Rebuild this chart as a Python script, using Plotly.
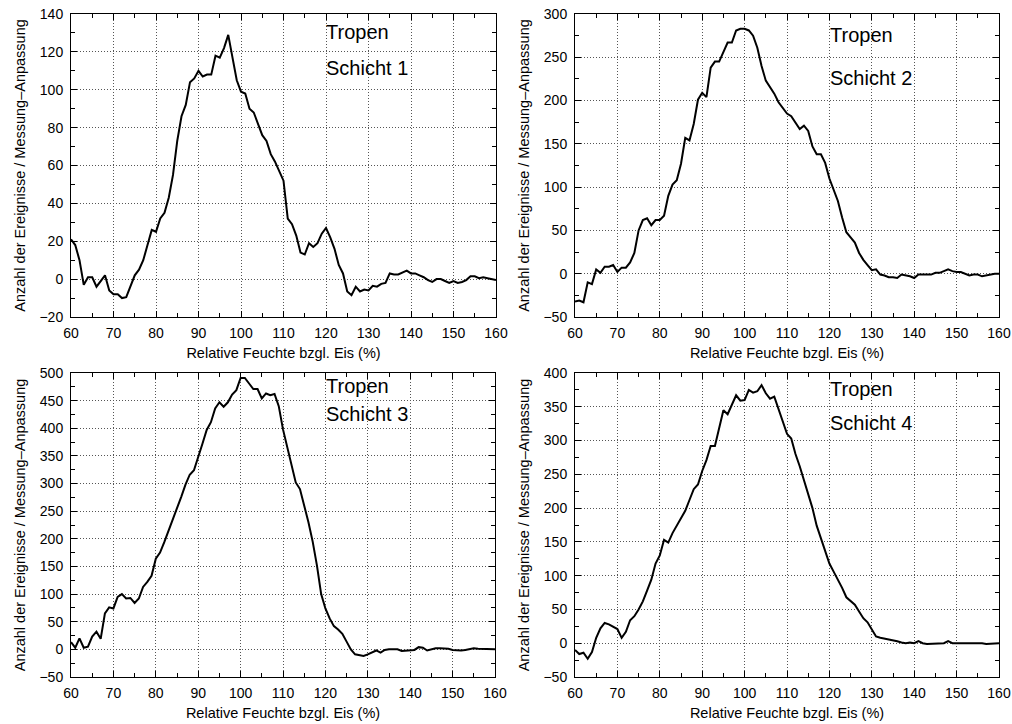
import plotly.graph_objects as go
from plotly.subplots import make_subplots

# ---------------- data ----------------
rh = list(range(60, 161))  # Relative Feuchte bzgl. Eis (%)

schicht1 = [21, 18, 10, -3, 1, 1, -4, -1, 2, -6,
            -8, -8, -10, -9.5, -4, 2, 5, 10, 18, 26,
            25, 32, 35, 43, 55, 73, 86, 92, 104, 106,
            110, 107, 108, 108, 118, 117, 122, 129, 117, 105,
            99, 98, 90, 88, 82, 76, 73, 66, 62, 57,
            52, 32, 29, 23, 14, 13, 19, 17, 19, 24,
            27, 22, 16, 7.5, 3, -6.5, -8.5, -4, -6.5, -5.5,
            -6, -3.5, -4, -2.5, -2, 3, 2.5, 2.5, 3.5, 4.5,
            3, 3, 2, 1, -0.5, -1.5, 0, 0, -1, -2,
            -1, -2, -1.5, -0.5, 1.5, 1.5, 0.5, 1, 0.5, 0, -0.5]

schicht2 = [-32, -31, -33, -10, -12, 5, 1, 8, 8, 10,
            2, 7, 7, 13, 24, 50, 62, 64, 56, 62,
            62, 67, 90, 103, 108, 127, 157, 154, 173, 201,
            209, 204, 238, 245, 245, 256, 267, 267, 281, 283,
            283, 281, 275, 261, 240, 223, 215, 208, 198, 191,
            185, 182, 175, 167, 171, 165, 147, 138, 138, 128,
            110, 97, 84, 65, 48, 42, 36, 24, 16, 10,
            4, 5, -1, -2, -4, -4, -5, -1, -2, -3,
            -5, -1, -1, -1, -1, 1, 1, 3, 5, 3,
            2, 2, 0, -2, -1, -1, -3, -2, -1, 0, 0]

schicht3 = [13, 3, 20, 3, 5, 23, 32, 19, 65, 76,
            74, 95, 100, 92, 93, 84, 92, 113, 122, 133,
            164, 175, 194, 214, 234, 255, 276, 298, 316, 324,
            346, 372, 397, 411, 436, 447, 439, 447, 461, 469,
            491, 491, 481, 471, 471, 454, 463, 460, 462, 440,
            398, 365, 330, 302, 290, 262, 230, 195, 152, 100,
            74, 56, 42, 36, 28, 14, 0, -9, -10, -12,
            -9, -6, -2, -6, -1, 0, 0, 0, -3, -2,
            -1, -1, 4, 3, -2, 0, 2, 2, 2, 1,
            -1, -2, -2, -1, 0, 2, 1, 1, 0, 0, 0]

schicht4 = [-10, -16, -14, -23, -13, 8, 22, 30, 28, 24,
            21, 8, 17, 34, 40, 50, 62, 78, 94, 118,
            130, 153, 149, 163, 174, 183, 196, 212, 228, 235,
            255, 271, 292, 292, 318, 345, 339, 352, 367, 359,
            360, 375, 371, 373, 382, 370, 362, 365, 346, 327,
            310, 303, 280, 262, 242, 222, 200, 174, 156, 138,
            118, 106, 95, 82, 68, 62, 57, 47, 37, 31,
            20, 10, 8, 7, 6, 4, 3, 1, 0, 1,
            0, 3, 0, -1, -1, 0, 0, 0, 3, 0,
            0, 0, 0, 0, 0, 1, 0, -1, -1, 0, 0]

series = [schicht1, schicht2, schicht3, schicht4]
labels = ["Schicht 1", "Schicht 2", "Schicht 3", "Schicht 4"]
region = "Tropen"

y_ranges = [[-20, 140], [-50, 300], [-50, 500], [-50, 400]]
y_dticks = [20, 50, 50, 50]
x_title = "Relative Feuchte bzgl. Eis (%)"
y_title = "Anzahl der Ereignisse / Messung\u2013Anpassung"

# label positions (data coords): (x, y_region, y_layer)
label_pos = [(119.6, 130.5, 111.5), (119.6, 276, 226.5), (119.6, 476, 426), (119.6, 377, 326.5)]

# ---------------- figure ----------------
W, H = 1012, 724
fig = make_subplots(rows=2, cols=2)

dom_x = [[71 / W, 496 / W], [575 / W, 999 / W], [71 / W, 495 / W], [575 / W, 999 / W]]
dom_y = [[1 - 317 / H, 1 - 14 / H], [1 - 317 / H, 1 - 14 / H],
         [1 - 677 / H, 1 - 373 / H], [1 - 677 / H, 1 - 373 / H]]

FONT = "Liberation Sans, Arial, Helvetica, sans-serif"

for i, ys in enumerate(series):
    r, c = i // 2 + 1, i % 2 + 1
    fig.add_trace(go.Scatter(x=rh, y=ys, mode="lines",
                             line=dict(color="black", width=2),
                             showlegend=False), row=r, col=c)

annotations = []
for i in range(4):
    sfx = "" if i == 0 else str(i + 1)
    common = dict(showline=True, linecolor="black", linewidth=1, mirror="allticks",
                  ticks="inside", ticklen=6, tickwidth=1, tickcolor="black",
                  showgrid=True, gridcolor="#555555", griddash="1px,2px", gridwidth=1,
                  zeroline=False, automargin=False,
                  tickfont=dict(family=FONT, size=14, color="black"))
    fig.layout["xaxis" + sfx].update(
        domain=dom_x[i], range=[60, 160], dtick=10, tick0=60, ticklabelstandoff=3,
        minor=dict(ticks="inside", ticklen=4, dtick=5, tickcolor="black", showgrid=False),
        title=dict(text=x_title, font=dict(family=FONT, size=14.5, color="black"), standoff=8),
        **common)
    fig.layout["yaxis" + sfx].update(
        domain=dom_y[i], range=y_ranges[i], dtick=y_dticks[i], ticklabelstandoff=4,
        minor=dict(ticks="inside", ticklen=4, dtick=y_dticks[i] / 2, tickcolor="black", showgrid=False),
        title=dict(text=y_title, font=dict(family=FONT, size=14.5, color="black"), standoff=10),
        **common)
    xr = "x" + sfx
    yr = "y" + sfx
    lx, ly1, ly2 = label_pos[i]
    for txt, yy in [(region, ly1), (labels[i], ly2)]:
        annotations.append(dict(x=lx, y=yy, xref=xr, yref=yr, text=txt, showarrow=False,
                                xanchor="left", yanchor="middle",
                                font=dict(family=FONT, size=20, color="black")))

fig.update_layout(width=W, height=H, margin=dict(l=0, r=0, t=0, b=0),
                  paper_bgcolor="white", plot_bgcolor="white",
                  annotations=annotations, showlegend=False)

fig.write_html("out.html")
